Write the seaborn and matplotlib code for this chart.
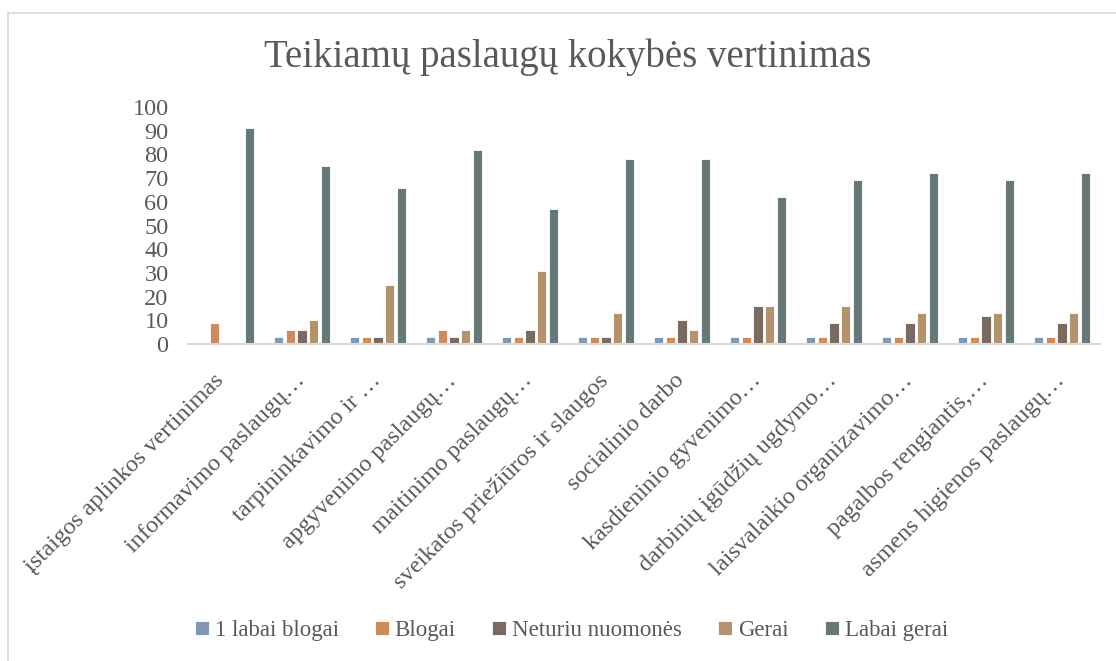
import numpy as np
import pandas as pd
import matplotlib
matplotlib.use("Agg")
import matplotlib.pyplot as plt
import matplotlib.transforms as mtransforms
import seaborn as sns

# duomenys
categories = [
    "įstaigos aplinkos vertinimas",
    "informavimo paslaugų…",
    "tarpininkavimo ir …",
    "apgyvenimo paslaugų…",
    "maitinimo paslaugų…",
    "sveikatos priežiūros ir slaugos",
    "socialinio darbo",
    "kasdieninio gyvenimo…",
    "darbinių įgūdžių ugdymo…",
    "laisvalaikio organizavimo…",
    "pagalbos rengiantis,…",
    "asmens higienos paslaugų…",
]
series_names = ["1 labai blogai", "Blogai", "Neturiu nuomonės", "Gerai", "Labai gerai"]
labai_blogai = [0, 3, 3, 3, 3, 3, 3, 3, 3, 3, 3, 3]
blogai = [9, 6, 3, 6, 3, 3, 3, 3, 3, 3, 3, 3]
neturiu = [0, 6, 3, 3, 6, 3, 10, 16, 9, 9, 12, 9]
gerai = [0, 10, 25, 6, 31, 13, 6, 16, 16, 13, 13, 13]
labai_gerai = [91, 75, 66, 82, 57, 78, 78, 62, 69, 72, 69, 72]
y_ticks = list(range(0, 101, 10))

colors = ["#7f99b2", "#d08b5b", "#7b6a5f", "#b4936c", "#667878"]
text_color = "#595959"

rows = []
for name, vals in zip(series_names, [labai_blogai, blogai, neturiu, gerai, labai_gerai]):
    for cat, v in zip(categories, vals):
        rows.append({"kategorija": cat, "vertinimas": name, "reiksme": v})
df = pd.DataFrame(rows)

sns.set_style("white")
plt.rcParams["font.family"] = ["Liberation Serif", "DejaVu Serif"]

fig = plt.figure(figsize=(11.16, 6.61), dpi=100)
ax = fig.add_axes([0.1685, 0.4796, 0.8172, 0.3585])

sns.barplot(data=df, x="kategorija", y="reiksme", hue="vertinimas",
            order=categories, hue_order=series_names, palette=colors,
            width=0.77, gap=0.22, edgecolor="white", linewidth=0.6,
            saturation=1, errorbar=None, ax=ax)

ax.set_ylim(0, 100)
ax.set_xlim(-0.5, len(categories) - 0.5)
ax.set_yticks(y_ticks)
ax.set_yticklabels([str(t) for t in y_ticks], fontsize=17.5, color=text_color)
ax.set_xticks(range(len(categories)))
ax.set_xticklabels(categories, rotation=45, ha="right", rotation_mode="anchor",
                   fontsize=17.5, color=text_color)
ax.tick_params(axis="y", length=0, pad=14)
ax.tick_params(axis="x", length=0, pad=8)
# Excel tipo poslinkis etiketėms
offset = mtransforms.ScaledTranslation(-0.08, -0.15, fig.dpi_scale_trans)
first_offset = mtransforms.ScaledTranslation(-0.05, 0.0, fig.dpi_scale_trans)
for i, lbl in enumerate(ax.get_xticklabels()):
    tr = lbl.get_transform() + offset
    if i == 0:
        tr = tr + first_offset
    lbl.set_transform(tr)
ax.set_xlabel("")
ax.set_ylabel("")
for s in ["top", "right", "left"]:
    ax.spines[s].set_visible(False)
ax.spines["bottom"].set_color("#d9d9d9")
ax.spines["bottom"].set_linewidth(1.5)
ax.grid(False)

fig.text(0.509, 0.913, "Teikiamų paslaugų kokybės vertinimas", ha="center", va="center",
         fontsize=28, color=text_color)

handles, labels = ax.get_legend_handles_labels()
ax.legend_.remove()
fig.legend(handles, labels, loc="center", bbox_to_anchor=(0.512, 0.046), ncol=5,
           frameon=False, fontsize=16.5, handlelength=0.6, handleheight=0.6,
           handletextpad=0.25, columnspacing=1.6, labelcolor=text_color)

# rėmelis
fig.add_artist(plt.Line2D([8 / 1116, 8 / 1116], [0, 1 - 13 / 661],
                          transform=fig.transFigure, color="#d9d9d9", lw=1.2))
fig.add_artist(plt.Line2D([8 / 1116, 1], [1 - 13 / 661, 1 - 13 / 661],
                          transform=fig.transFigure, color="#d9d9d9", lw=1.2))

fig.savefig("out.png", dpi=100)
